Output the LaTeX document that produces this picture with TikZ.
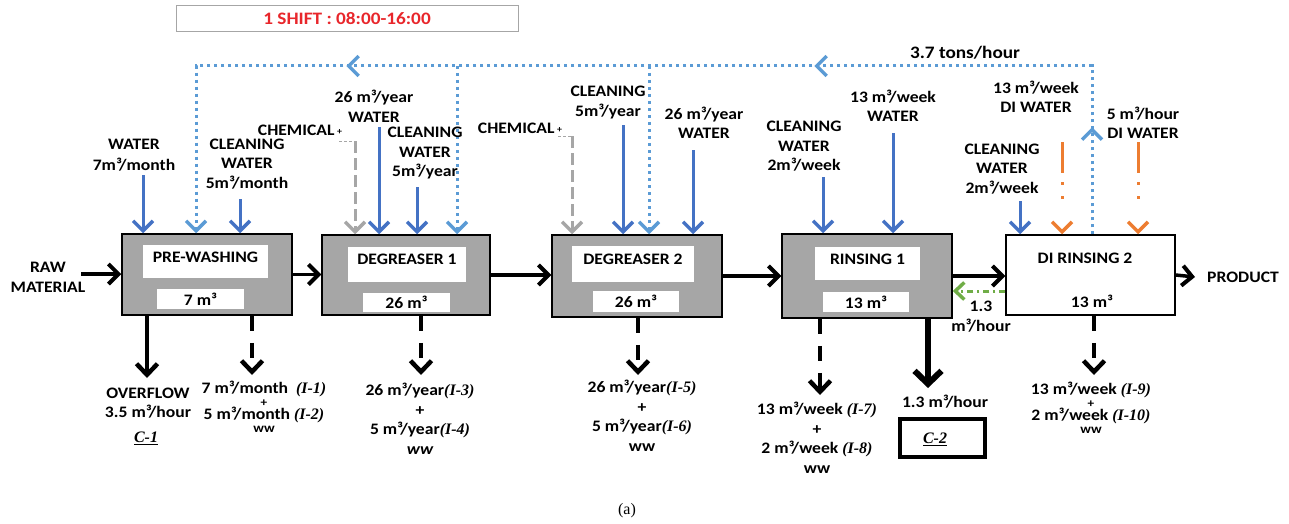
\documentclass[tikz,border=0pt]{standalone}
\usepackage{fontspec}
\newfontfamily\carl{Carlito}[FakeStretch=1.1]
\newfontfamily\timesf{Liberation Serif}
\usetikzlibrary{arrows.meta,decorations.markings}
\definecolor{inblue}{HTML}{4472C4}
\definecolor{dotblue}{HTML}{5B9BD5}
\definecolor{chemgray}{HTML}{A6A6A6}
\definecolor{boxgray}{HTML}{A6A6A6}
\definecolor{diorange}{HTML}{ED7D31}
\definecolor{rgreen}{HTML}{70AD47}
\definecolor{shiftred}{HTML}{E8262B}
\newcommand{\idt}[1]{{\timesf\bfseries\itshape #1}}
\newcommand{\smp}{{\fontsize{12}{12}\selectfont +}}
\newcommand{\smw}{{\fontsize{13}{13}\selectfont ww}}
\tikzset{
  thead/.tip={Straight Barb[length=10pt,width=20pt,line width=3.5pt]},
  hhead/.tip={Straight Barb[length=10pt,width=20pt,line width=4pt]},
  ohead/.tip={Straight Barb[length=11pt,width=21pt,line width=4.5pt]},
  bighead/.tip={Straight Barb[length=13pt,width=27pt,line width=6pt]},
  ghead/.tip={Straight Barb[length=9pt,width=17pt,line width=3.5pt]}
}
\begin{document}
\begin{tikzpicture}[x=1pt,y=-1pt,
  lbl/.style={font=\carl\bfseries\fontsize{16}{19.5}\selectfont, align=center, inner sep=0pt},
  lblc/.style={font=\carl\bfseries\fontsize{16}{13}\selectfont, align=center, inner sep=0pt},
  proc/.style={draw=black, line width=1.5pt, fill=boxgray, inner sep=0pt},
  wbox/.style={fill=white, inner sep=0pt},
  inarr/.style={draw=inblue, line width=3pt, -thead},
  chemarr/.style={draw=chemgray, line width=3pt, dash pattern=on 12pt off 5pt, -thead},
  chemthin/.style={draw=chemgray, line width=1pt, dash pattern=on 3pt off 2pt},
  oarr/.style={draw=diorange, line width=3pt, dash pattern=on 31pt off 9pt on 3pt off 11pt on 3pt off 60pt, -thead},
  dotl/.style={draw=dotblue, line width=3pt, dash pattern=on 3pt off 4pt},
  harr/.style={draw=black, line width=3.5pt, -hhead},
  garr/.style={draw=rgreen, line width=3pt, dash pattern=on 6pt off 4pt on 2pt off 4pt, -ghead},
  outarr/.style={draw=black, line width=4pt, -ohead},
  outdash/.style={outarr, dash pattern=on 15pt off 12pt},
  bigarr/.style={draw=black, line width=5.5pt, -bighead}
]
\useasboundingbox (0,0) rectangle (1289,524);

% banner
\node[draw=black!35, line width=1pt, minimum width=342pt, minimum height=26pt, inner sep=0pt,
      text=shiftred, font=\carl\bfseries\fontsize{17.5}{20}\selectfont] (shift) at (347,19) {1 SHIFT : 08:00-16:00};

% process boxes
\node[proc, minimum width=170pt, minimum height=81pt] (P1) at (207,274.5) {};
\node[wbox, minimum width=125pt, minimum height=33pt] (P1i) at (205.5,261.5) {};
\node[lbl] (P1t) at (205.5,257) {PRE-WASHING};
\node[wbox, minimum width=87pt, minimum height=20pt] (P1v) at (200.5,299) {};
\node[lbl] (P1vt) at (P1v) {7 m³};

\node[proc, minimum width=168pt, minimum height=80pt] (P2) at (406,275) {};
\node[wbox, minimum width=118pt, minimum height=35pt] (P2i) at (407,264.5) {};
\node[lbl] (P2t) at (407,259) {DEGREASER 1};
\node[wbox, minimum width=87pt, minimum height=19pt] (P2v) at (406.5,302.5) {};
\node[lbl] (P2vt) at (P2v) {26 m³};

\node[proc, minimum width=170pt, minimum height=82pt] (P3) at (637,276) {};
\node[wbox, minimum width=122pt, minimum height=36pt] (P3i) at (633,264) {};
\node[lbl] (P3t) at (633,259) {DEGREASER 2};
\node[wbox, minimum width=86pt, minimum height=21pt] (P3v) at (636,301.5) {};
\node[lbl] (P3vt) at (P3v) {26 m³};

\node[proc, minimum width=170pt, minimum height=84pt] (P4) at (867,276) {};
\node[wbox, minimum width=105pt, minimum height=33pt] (P4i) at (867.5,263.5) {};
\node[lbl] (P4t) at (867.5,259) {RINSING 1};
\node[wbox, minimum width=86pt, minimum height=20pt] (P4v) at (866,302) {};
\node[lbl] (P4vt) at (P4v) {13 m³};

\node[proc, fill=white, minimum width=169pt, minimum height=80pt] (P5) at (1090.5,275) {};
\node[lbl] (P5t) at (1085,258) {DI RINSING 2};
\node[lbl] (P5vt) at (1092,301) {13 m³};

% main horizontal flow
\node[lbl] (raw) at (48,277.5) {RAW\\MATERIAL};
\coordinate (rawA) at (81,274);
\draw[harr] (rawA) -- (rawA -| P1.west);
\draw[harr] (P1.east) -- (P1.east -| P2.west);
\draw[harr] (P2.east) -- (P2.east -| P3.west);
\draw[harr] (P3.east) -- (P3.east -| P4.west);
\draw[harr] (P4.east) -- (P4.east -| P5.west);
\node[lbl, anchor=west, inner xsep=12pt] (prod) at (1195,277) {PRODUCT};
\draw[harr] (P5.east) -- (prod.west);
\draw[garr] ([yshift=-16pt]P5.west) -- ([yshift=-16pt]P5.west -| P4.east);
\node[lbl] (glbl) at (981,316.5) {1.3\\m³/hour};

% recycle loop (dotted)
\coordinate (TR) at (1092,66);
\coordinate (TL) at (196,66);
\coordinate (T2) at (457,66);
\coordinate (T3) at (649,66);
\draw[dotl, -thead, postaction={decorate},
  decoration={markings,
    mark=at position 107pt with {\arrow{thead}},
    mark=at position 446pt with {\arrow{thead}},
    mark=at position 914pt with {\arrow{thead}}}]
  (P5.north -| TR) -- (TR) -- (TL) -- (TL |- P1.north);
\draw[dotl, -thead] (T2) -- (T2 |- P2.north);
\draw[dotl, -thead] (T3) -- (T3 |- P3.north);
\node[lbl, font=\carl\bfseries\fontsize{17.5}{20}\selectfont] (tons) at (965,53) {3.7 tons/hour};

% inputs pre-washing
\node[lbl, font=\carl\bfseries\fontsize{16}{21}\selectfont] (lw1) at (134,155.5) {WATER\\7m³/month};
\coordinate (a1) at (143,175);
\draw[inarr] (a1) -- (a1 |- P1.north);
\node[lbl] (lc1) at (247,164) {CLEANING\\WATER\\5m³/month};
\coordinate (a2) at (240,199);
\draw[inarr] (a2) -- (a2 |- P1.north);

% inputs degreaser 1
\node[lbl] (ch1) at (300,130) {CHEMICAL\,\raisebox{1pt}{\fontsize{9}{9}\selectfont+}};
\coordinate (c1a) at (339,141);
\coordinate (c1b) at (355,141);
\draw[chemthin] (c1a) -- (c1b);
\draw[chemarr] (c1b) -- (c1b |- P2.north);
\node[lbl] (lw2) at (374,106.5) {26 m³/year\\WATER};
\coordinate (a3) at (379,127);
\draw[inarr] (a3) -- (a3 |- P2.north);
\node[lbl] (lc2) at (425,153.5) {CLEANING\\WATER\\5m³/year};
\coordinate (a4) at (417,187);
\draw[inarr] (a4) -- (a4 |- P2.north);

% inputs degreaser 2
\node[lbl] (ch2) at (520,128) {CHEMICAL\,\raisebox{1pt}{\fontsize{9}{9}\selectfont+}};
\coordinate (c2a) at (558,136);
\coordinate (c2b) at (572,136);
\draw[chemthin] (c2a) -- (c2b);
\draw[chemarr] (c2b) -- (c2b |- P3.north);
\node[lbl] (lc3) at (608,102.5) {CLEANING\\5m³/year};
\coordinate (a5) at (623,125);
\draw[inarr] (a5) -- (a5 |- P3.north);
\node[lbl] (lw3) at (704,123) {26 m³/year\\WATER};
\coordinate (a6) at (693,150);
\draw[inarr] (a6) -- (a6 |- P3.north);

% inputs rinsing 1
\node[lbl] (lc4) at (804,146.5) {CLEANING\\WATER\\2m³/week};
\coordinate (a7) at (823,177);
\draw[inarr] (a7) -- (a7 |- P4.north);
\node[lbl] (lw4) at (893,106) {13 m³/week\\WATER};
\coordinate (a8) at (893,133);
\draw[inarr] (a8) -- (a8 |- P4.north);

% inputs DI rinsing 2
\node[lbl] (lc5) at (1002,169) {CLEANING\\WATER\\2m³/week};
\coordinate (a9) at (1020,201);
\draw[inarr] (a9) -- (a9 |- P5.north);
\node[lbl] (ldi1) at (1036,97) {13 m³/week\\DI WATER};
\coordinate (a10) at (1062,142);
\draw[oarr] (a10) -- (a10 |- P5.north);
\node[lbl] (ldi2) at (1143,123) {5 m³/hour\\DI WATER};
\coordinate (a11) at (1138,142);
\draw[oarr] (a11) -- (a11 |- P5.north);

% outputs
\coordinate (o1) at (147,378);
\draw[outarr] (P1.south -| o1) -- (o1);
\node[lbl] (ov) at (148,403) {OVERFLOW\\3.5 m³/hour};
\node[inner sep=0pt, font=\fontsize{16}{16}\selectfont] (C1) at (146,438) {\underline{\idt{C-1}}};
\coordinate (d1) at (252,375);
\draw[outdash] (P1.south -| d1) -- (d1);
\node[lblc] (w1) at (264,407) {7 m³/month \ \idt{(I-1)}\\\smp\\5 m³/month \idt{(I-2)}\\\smw};

\coordinate (d2) at (421,375);
\draw[outdash] (P2.south -| d2) -- (d2);
\node[lbl] (w2) at (420,419) {26 m³/year\idt{(I-3)}\\+\\5 m³/year\idt{(I-4)}\\{\itshape ww}};

\coordinate (d3) at (638,375);
\draw[outdash] (P3.south -| d3) -- (d3);
\node[lbl] (w3) at (642,416) {26 m³/year\idt{(I-5)}\\+\\5 m³/year\idt{(I-6)}\\ww};

\coordinate (d4) at (820,395);
\draw[outdash] (P4.south -| d4) -- (d4);
\node[lbl] (w4) at (817,438) {13 m³/week \idt{(I-7)}\\+\\2 m³/week \idt{(I-8)}\\ww};

\coordinate (o2c) at (928,388);
\draw[bigarr] (P4.south -| o2c) -- (o2c);
\node[lbl] (o2) at (945,402) {1.3 m³/hour};
\node[draw=black, line width=4.5pt, minimum width=85pt, minimum height=38pt, inner sep=0pt] (C2box) at (942.5,438) {};
\node[inner sep=0pt, font=\fontsize{16}{16}\selectfont] (C2) at (935,439) {\underline{\idt{C-2}}};

\coordinate (d5) at (1094,375);
\draw[outdash] (P5.south -| d5) -- (d5);
\node[lblc] (w5) at (1091,408) {13 m³/week \idt{(I-9)}\\\smp\\2 m³/week \idt{(I-10)}\\\smw};

\node[inner sep=0pt, font=\timesf\fontsize{16}{16}\selectfont] (cap) at (627,511) {(a)};
\end{tikzpicture}
\end{document}
